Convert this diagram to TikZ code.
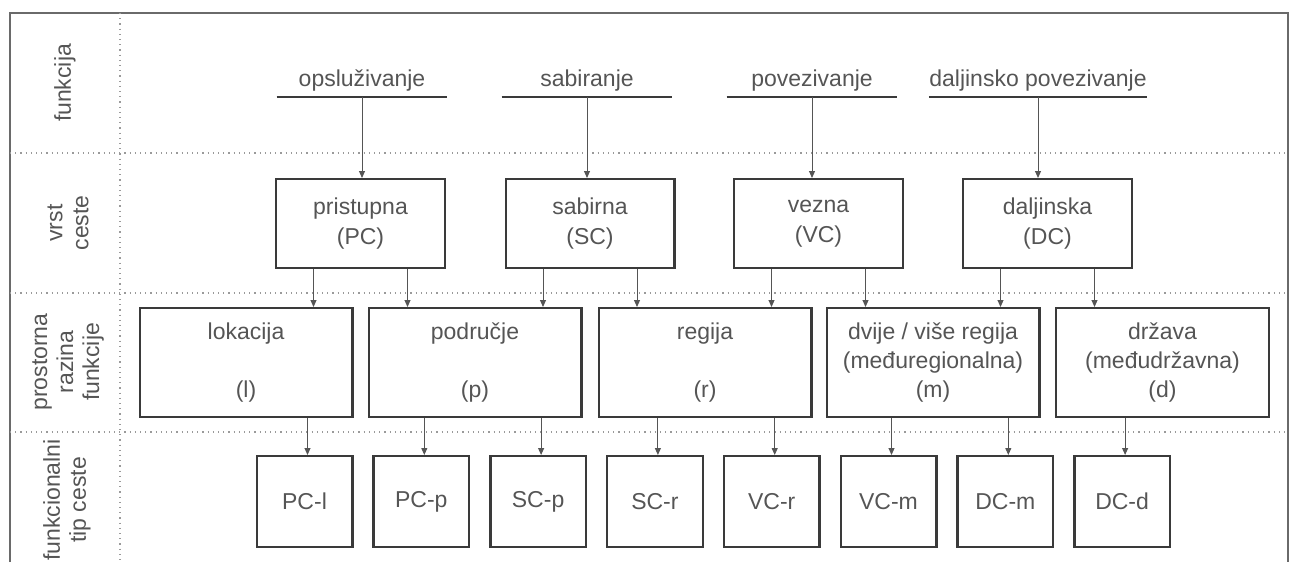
\documentclass[tikz,border=0pt]{standalone}
\usepackage{fontspec}
\setmainfont{Liberation Sans}
\usepackage{xcolor}
\usepackage{tikz}
\usetikzlibrary{arrows.meta, positioning, calc}
\definecolor{rdInk}{HTML}{3A3A3A}
\definecolor{rdText}{HTML}{555555}
\definecolor{rdGrid}{HTML}{9A9A9A}
\definecolor{rdFrame}{HTML}{6A6A6A}
\tikzset{
  rdfun/.style={text=rdText, font=\fontsize{11.5}{13}\selectfont, inner xsep=0pt, inner ysep=2.5pt,
                text height=8.5pt, text depth=2.5pt, minimum width=85pt, anchor=south},
  rdvrst/.style={draw=rdInk, line width=1.2pt, text=rdText, align=center,
                 font=\fontsize{11.5}{15}\selectfont, minimum width=84.3pt, minimum height=44.3pt},
  rdraz/.style={draw=rdInk, line width=1.2pt, text=rdText, align=center,
                font=\fontsize{11.5}{14.3}\selectfont, minimum width=106.3pt, minimum height=54.3pt},
  rdtip/.style={draw=rdInk, line width=1.2pt, text=rdText,
                font=\fontsize{11.5}{14}\selectfont, minimum width=47.8pt, minimum height=45.3pt},
  rdside/.style={rotate=90, align=center, text=rdText, font=\fontsize{11.5}{13}\selectfont},
  rdline/.style={draw=rdInk, line width=1.4pt},
  rdarr/.style={draw=rdText, line width=0.5pt, -{Triangle[length=3.5pt,width=3pt]}},
  rdgrid/.style={draw=rdGrid, line width=0.6pt, dotted},
  rdframe/.style={draw=rdFrame, line width=1pt},
}

\begin{document}
\begin{tikzpicture}[x=0.5pt, y=-0.5pt, node distance=9.4pt]
\useasboundingbox (0,0) rectangle (1294,562);

% frame and bands
\draw[rdframe] (10,562) -- (10,13) -- (1288,13) -- (1288,562);
\foreach \yy in {153,293,432}
  \draw[rdgrid] (10,\yy) -- (1288,\yy);
\draw[rdgrid] (120,13) -- (120,562);

\node[rdside] (sfun) at (65,83) {funkcija};
\node[rdside] (svrst) at (68,223) {vrst\\ceste};
\node[rdside] (sraz) at (68,362) {prostorna\\razina\\funkcije};
\node[rdside] (stip) at (67,500) {funkcionalni\\tip ceste};

% funkcija
\node[rdfun] (fops) at (362,97) {opslu\v{z}ivanje};
\node[rdfun] (fsab) at (587,97) {sabiranje};
\node[rdfun] (fpov) at (812,97) {povezivanje};
\node[rdfun] (fdal) at (1038,97) {daljinsko povezivanje};
\foreach \f in {fops,fsab,fpov,fdal}
  \draw[rdline] (\f.south west) -- (\f.south east);

% vrst ceste
\node[rdvrst] (pc) at (360.5,223.5) {pristupna\\(PC)};
\node[rdvrst] (sc) at (590,223.5) {sabirna\\(SC)};
\node[rdvrst] (vc) at (818.5,223.5) {vezna\\(VC)};
\node[rdvrst] (dc) at (1047.5,223.5) {daljinska\\(DC)};

% prostorna razina funkcije
\node[rdraz] (lok) at (246,362.5) {lokacija\\~\\(l)};
\node[rdraz] (pod) at (475,362.5) {podru\v{c}je\\~\\(p)};
\node[rdraz] (reg) at (705,362.5) {regija\\~\\(r)};
\node[rdraz] (dvi) at (933,362.5) {dvije / vi\v{s}e regija\\(me\dj uregionalna)\\(m)};
\node[rdraz] (drz) at (1162.5,362.5) {dr\v{z}ava\\(me\dj udr\v{z}avna)\\(d)};

% funkcionalni tip ceste
\node[rdtip] (pcl) at (304.5,501.5) {PC-l};
\node[rdtip, right=of pcl] (pcp) {PC-p};
\node[rdtip, right=of pcp] (scp) {SC-p};
\node[rdtip, right=of scp] (scr) {SC-r};
\node[rdtip, right=of scr] (vcr) {VC-r};
\node[rdtip, right=of vcr] (vcm) {VC-m};
\node[rdtip, right=of vcm] (dcm) {DC-m};
\node[rdtip, right=of dcm] (dcd) {DC-d};

\draw[rdarr] (fops.south) -- (fops.south |- pc.north);
\draw[rdarr] (fsab.south) -- (fsab.south |- sc.north);
\draw[rdarr] (fpov.south) -- (fpov.south |- vc.north);
\draw[rdarr] (fdal.south) -- (fdal.south |- dc.north);

\foreach \s/\t/\d in {pc/lok/-47, pc/pod/47, sc/pod/-47, sc/reg/47,
                      vc/reg/-47, vc/dvi/47, dc/dvi/-47, dc/drz/47} {
  \path ($(\s.south)+(\d,0)$) coordinate (tmp);
  \draw[rdarr] (tmp) -- (tmp |- \t.north);
}

\foreach \s/\t in {lok/pcl, pod/pcp, pod/scp, reg/scr, reg/vcr, dvi/vcm, dvi/dcm, drz/dcd}
  \draw[rdarr] ([xshift=1.5pt]\t.north |- \s.south) -- ([xshift=1.5pt]\t.north);
\end{tikzpicture}
\end{document}
